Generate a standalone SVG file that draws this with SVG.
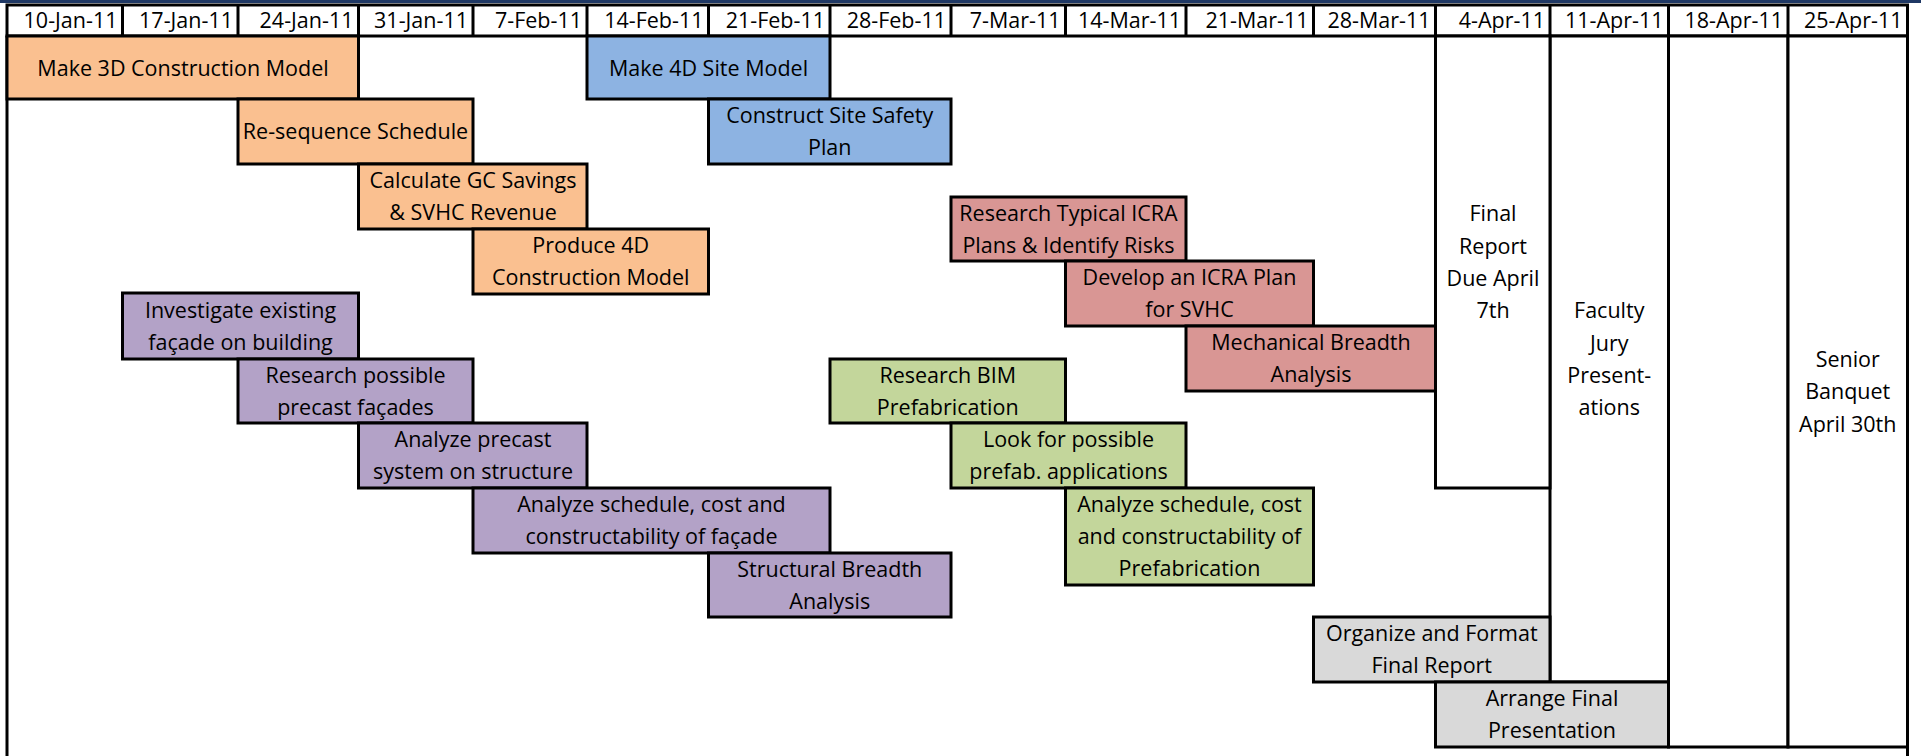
<svg xmlns="http://www.w3.org/2000/svg" width="1921" height="756" viewBox="0 0 1921 756">
<style>
.b{stroke:#000;stroke-width:3}
.w{fill:#fff}
.o{fill:#FAC090}
.bl{fill:#8DB3E2}
.r{fill:#D99694}
.p{fill:#B3A2C7}
.g{fill:#C3D69B}
.gr{fill:#D9D9D9}
text{font-family:"Open Sans","Liberation Sans",sans-serif;font-size:21.5px;fill:#000}
.c{text-anchor:middle}
.h{text-anchor:end}
.ln{stroke:#000;stroke-width:3;fill:none}
</style>
<rect x="0" y="0" width="1921" height="3" fill="#1F3864"/>
<g id="header">
<rect class="b w" x="7" y="5" width="1900.5" height="31"/>
<path class="ln" d="M122.5 5V36M238 5V36M358.5 5V36M473 5V36M587 5V36M708.5 5V36M830 5V36M951 5V36M1065.5 5V36M1186 5V36M1313.5 5V36M1435.5 5V36M1550 5V36M1668.5 5V36M1788 5V36"/>
<text class="h" x="117.5" y="28">10-Jan-11</text>
<text class="h" x="233" y="28">17-Jan-11</text>
<text class="h" x="353.5" y="28">24-Jan-11</text>
<text class="h" x="468" y="28">31-Jan-11</text>
<text class="h" x="582" y="28">7-Feb-11</text>
<text class="h" x="703.5" y="28">14-Feb-11</text>
<text class="h" x="825" y="28">21-Feb-11</text>
<text class="h" x="946" y="28">28-Feb-11</text>
<text class="h" x="1060.5" y="28">7-Mar-11</text>
<text class="h" x="1181" y="28">14-Mar-11</text>
<text class="h" x="1308.5" y="28">21-Mar-11</text>
<text class="h" x="1430.5" y="28">28-Mar-11</text>
<text class="h" x="1545" y="28">4-Apr-11</text>
<text class="h" x="1663.5" y="28">11-Apr-11</text>
<text class="h" x="1783" y="28">18-Apr-11</text>
<text class="h" x="1902.5" y="28">25-Apr-11</text>
</g>
<g id="frame">
<path class="ln" d="M7 36V756M1907.5 36V756"/>
</g>
<g id="col-18apr"><rect class="b w" x="1668.5" y="36" width="119.5" height="711"/></g>
<g id="senior-banquet"><rect class="b w" x="1788" y="36" width="119.5" height="711"/>
<text class="c" x="1847.75" y="367">Senior</text><text class="c" x="1847.75" y="399">Banquet</text><text class="c" x="1847.75" y="431.5">April 30th</text></g>
<g id="faculty-jury"><rect class="b w" x="1550" y="36" width="118.5" height="646"/>
<text class="c" x="1609.25" y="318">Faculty</text><text class="c" x="1609.25" y="350.5">Jury</text><text class="c" x="1609.25" y="383">Present-</text><text class="c" x="1609.25" y="415">ations</text></g>
<g id="final-report"><rect class="b w" x="1435.5" y="36" width="114.5" height="452"/>
<text class="c" x="1493" y="221">Final</text><text class="c" x="1493" y="253.5">Report</text><text class="c" x="1493" y="286">Due April</text><text class="c" x="1493" y="318">7th</text></g>
<g id="make-3d"><rect class="b o" x="7" y="36" width="351.5" height="63"/>
<text class="c" x="183" y="75.5">Make 3D Construction Model</text></g>
<g id="resequence"><rect class="b o" x="238" y="99" width="235" height="65"/>
<text class="c" x="355.5" y="139">Re-sequence Schedule</text></g>
<g id="calc-gc"><rect class="b o" x="358.5" y="164" width="228.5" height="65"/>
<text class="c" x="473" y="188">Calculate GC Savings</text><text class="c" x="473" y="220">&amp; SVHC Revenue</text></g>
<g id="produce-4d"><rect class="b o" x="473" y="229" width="235.5" height="65"/>
<text class="c" x="590.75" y="253">Produce 4D</text><text class="c" x="590.75" y="285">Construction Model</text></g>
<g id="make-4d-site"><rect class="b bl" x="587" y="36" width="243" height="63"/>
<text class="c" x="708.5" y="75.5">Make 4D Site Model</text></g>
<g id="site-safety"><rect class="b bl" x="708.5" y="99" width="242.5" height="65"/>
<text class="c" x="829.75" y="123">Construct Site Safety</text><text class="c" x="829.75" y="155">Plan</text></g>
<g id="research-icra"><rect class="b r" x="951" y="197" width="235" height="64"/>
<text class="c" x="1068.5" y="220.5">Research Typical ICRA</text><text class="c" x="1068.5" y="252.5">Plans &amp; Identify Risks</text></g>
<g id="develop-icra"><rect class="b r" x="1065.5" y="261" width="248" height="65"/>
<text class="c" x="1189.5" y="285">Develop an ICRA Plan</text><text class="c" x="1189.5" y="317">for SVHC</text></g>
<g id="mechanical"><rect class="b r" x="1186" y="326" width="249.5" height="65"/>
<text class="c" x="1311" y="350">Mechanical Breadth</text><text class="c" x="1311" y="382">Analysis</text></g>
<g id="investigate"><rect class="b p" x="122.5" y="293" width="236" height="66"/>
<text class="c" x="240.5" y="317.5">Investigate existing</text><text class="c" x="240.5" y="349.5">façade on building</text></g>
<g id="research-precast"><rect class="b p" x="238" y="359" width="235" height="64"/>
<text class="c" x="355.5" y="382.5">Research possible</text><text class="c" x="355.5" y="414.5">precast façades</text></g>
<g id="analyze-precast"><rect class="b p" x="358.5" y="423" width="228.5" height="65"/>
<text class="c" x="473" y="447">Analyze precast</text><text class="c" x="473" y="479">system on structure</text></g>
<g id="analyze-facade"><rect class="b p" x="473" y="488" width="357" height="65"/>
<text class="c" x="651.5" y="512">Analyze schedule, cost and</text><text class="c" x="651.5" y="544">constructability of façade</text></g>
<g id="structural"><rect class="b p" x="708.5" y="553" width="242.5" height="64"/>
<text class="c" x="829.75" y="576.5">Structural Breadth</text><text class="c" x="829.75" y="608.5">Analysis</text></g>
<g id="research-bim"><rect class="b g" x="830" y="359" width="235.5" height="64"/>
<text class="c" x="947.75" y="382.5">Research BIM</text><text class="c" x="947.75" y="414.5">Prefabrication</text></g>
<g id="look-prefab"><rect class="b g" x="951" y="423" width="235" height="65"/>
<text class="c" x="1068.5" y="447">Look for possible</text><text class="c" x="1068.5" y="479">prefab. applications</text></g>
<g id="analyze-prefab"><rect class="b g" x="1065.5" y="488" width="248" height="97"/>
<text class="c" x="1189.5" y="511.5">Analyze schedule, cost</text><text class="c" x="1189.5" y="544">and constructability of</text><text class="c" x="1189.5" y="576">Prefabrication</text></g>
<g id="organize-report"><rect class="b gr" x="1313.5" y="617" width="236.5" height="65"/>
<text class="c" x="1431.75" y="641">Organize and Format</text><text class="c" x="1431.75" y="673">Final Report</text></g>
<g id="arrange-presentation"><rect class="b gr" x="1435.5" y="682" width="233" height="65"/>
<text class="c" x="1552" y="706">Arrange Final</text><text class="c" x="1552" y="738">Presentation</text></g>
</svg>
